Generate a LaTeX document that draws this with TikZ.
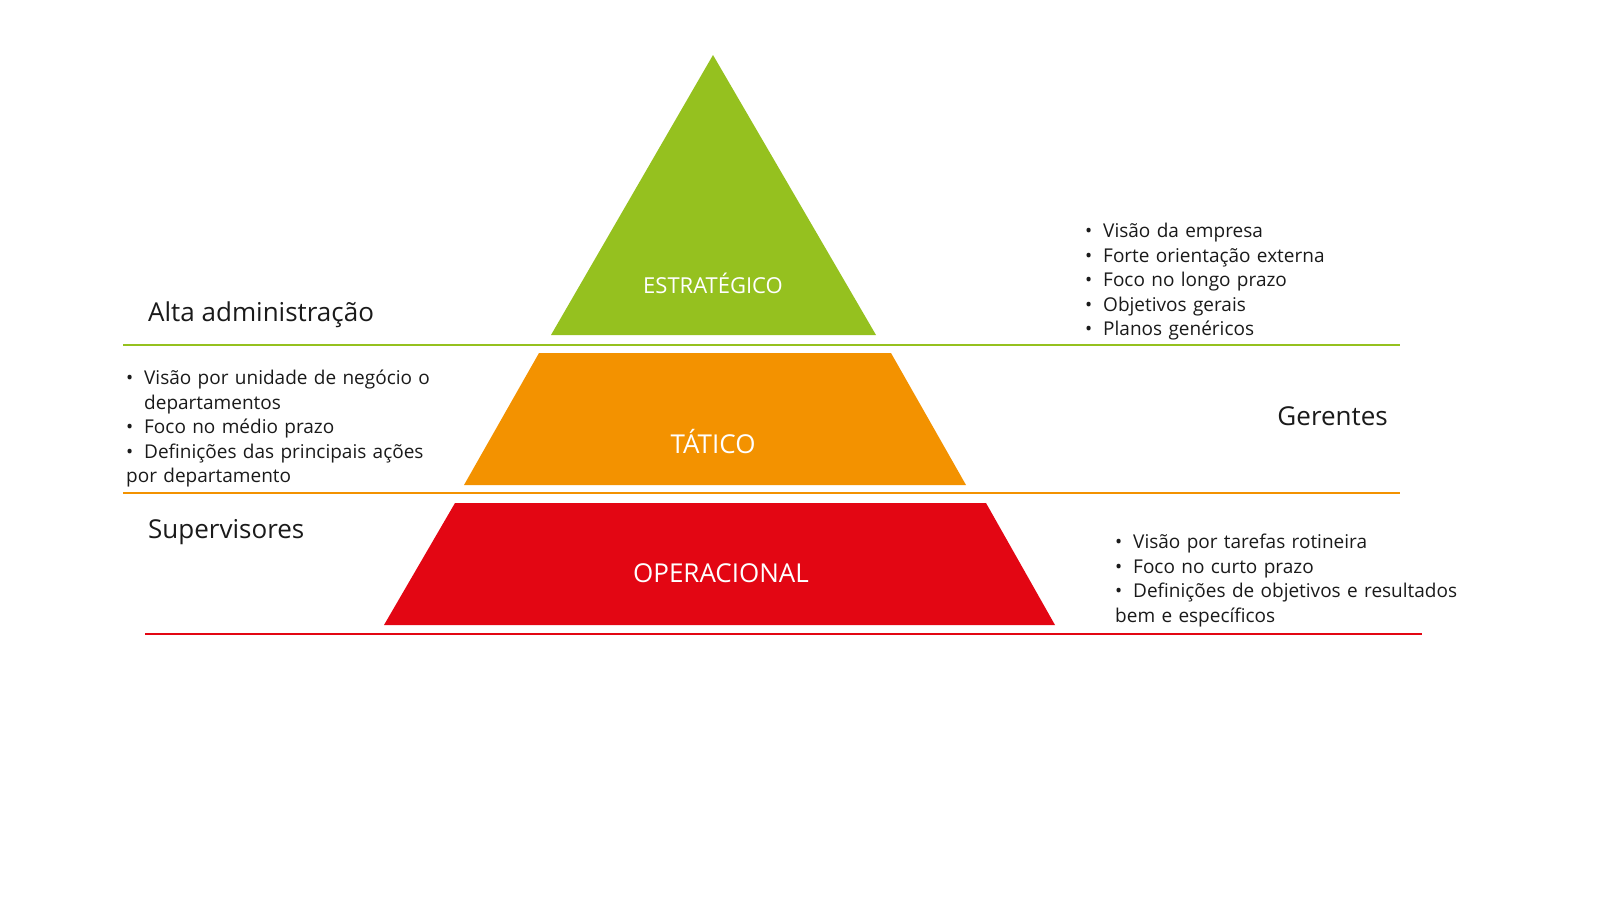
\documentclass[tikz,border=0pt]{standalone}
\usepackage{fontspec}
\setmainfont{Open Sans}
\definecolor{cg}{HTML}{95C11F}
\definecolor{co}{HTML}{F39200}
\definecolor{cr}{HTML}{E30613}
\definecolor{tx}{HTML}{1A1A1A}
\newcommand\bitem{\par\noindent\hangindent=18pt\hangafter=1\makebox[18pt][l]{\textbullet}}
\begin{document}
\begin{tikzpicture}[x=1pt,y=-1pt,
 lst/.style={anchor=north west,inner sep=0pt,text width=420pt,align=left,font=\fontsize{19}{24.5}\selectfont,text=tx},
 ttl/.style={inner sep=0pt,font=\fontsize{26}{30}\selectfont,text=tx},
 lvl/.style={inner sep=0pt,text=white}]
\useasboundingbox (0,0) rectangle (1600,900);
\fill[cg] (713,55) -- (876,335) -- (551,335) -- cycle;
\fill[co] (539,353) -- (891,353) -- (966,485) -- (464,485) -- cycle;
\fill[cr] (455,503) -- (986,503) -- (1055,625) -- (384,625) -- cycle;
\coordinate (g1) at (123,345); \coordinate (g2) at (1400,345);
\coordinate (o1) at (123,493); \coordinate (o2) at (1400,493);
\coordinate (r1) at (145,634); \coordinate (r2) at (1422,634);
\draw[cg,line width=2.5pt] (g1) -- (g2);
\draw[co,line width=2.5pt] (o1) -- (o2);
\draw[cr,line width=2.5pt] (r1) -- (r2);
\node[lvl,font=\fontsize{22}{26}\selectfont] (e) at (713,283) {ESTRATÉGICO};
\node[lvl,font=\fontsize{26}{30}\selectfont] (t) at (713,442) {TÁTICO};
\node[lvl,font=\fontsize{26}{30}\selectfont] (op) at (721,573) {OPERACIONAL};
\node[ttl,anchor=west] (a) at (148,315) {Alta administração};
\node[ttl,anchor=east] (gr) at (1388,416) {Gerentes};
\node[ttl,anchor=west] (s) at (148,532) {Supervisores};
\node[lst] (l1) at (1085,213) {\bitem Visão da empresa\bitem Forte orientação externa\bitem Foco no longo prazo\bitem Objetivos gerais\bitem Planos genéricos};
\node[lst] (l2) at (126,360) {\bitem Visão por unidade de negócio o\newline departamentos\bitem Foco no médio prazo\bitem Definições das principais ações\newline por departamento};
\node[lst] (l3) at (1115,524) {\bitem Visão por tarefas rotineira\bitem Foco no curto prazo\bitem Definições de objetivos e resultados\newline bem e específicos};
\end{tikzpicture}
\end{document}
